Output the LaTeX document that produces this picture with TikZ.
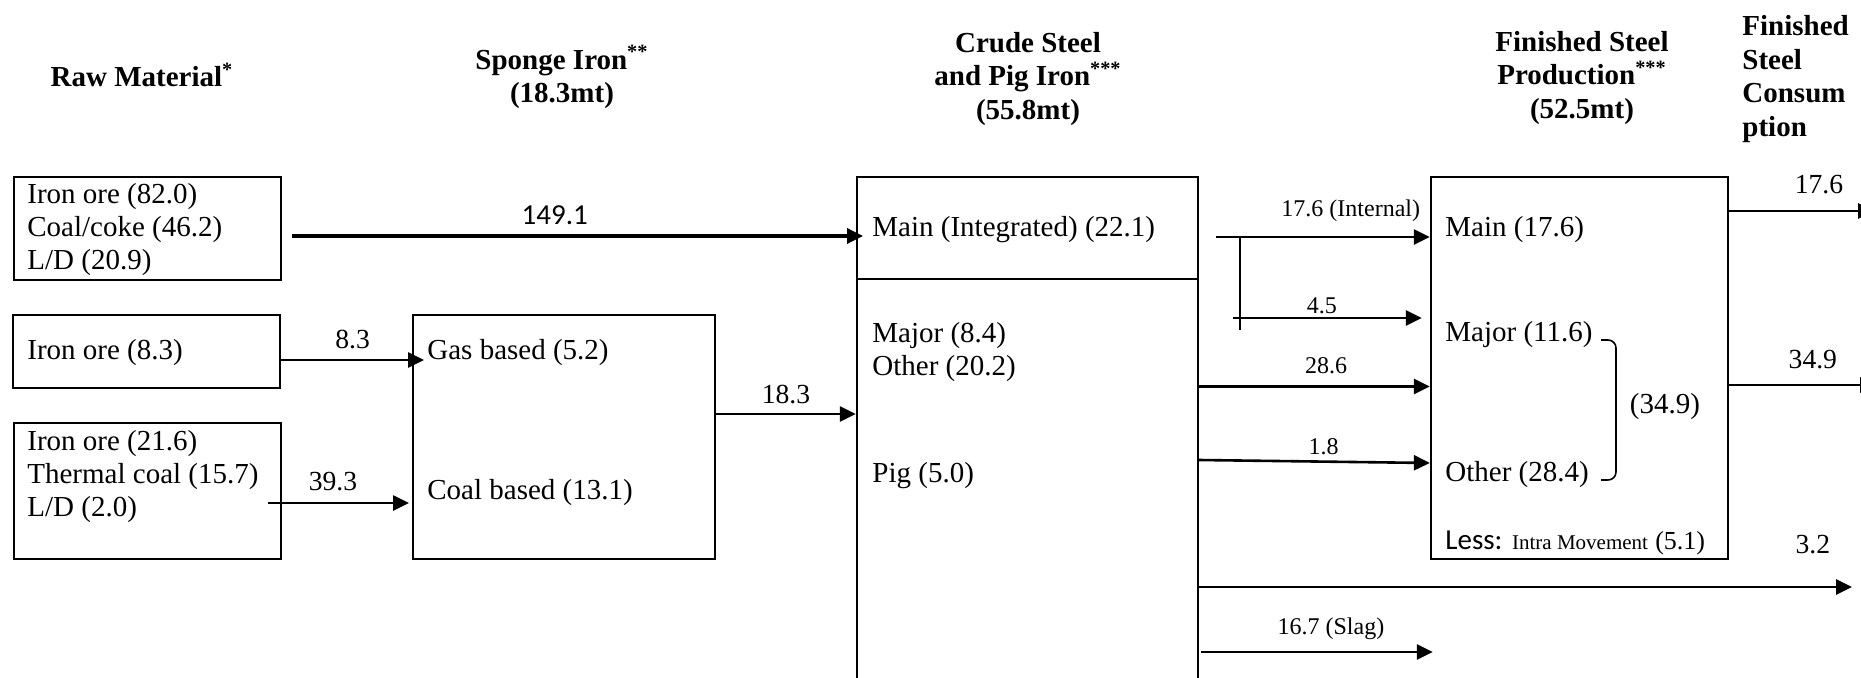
\documentclass[tikz,border=0pt]{standalone}
\usepackage{fontspec}
\setmainfont{Liberation Serif}
\newfontfamily\calibri{Carlito}
\usetikzlibrary{arrows.meta}

\begin{document}
\begin{tikzpicture}[
        x=0.5pt, y=-0.5pt,
        box/.style={rectangle, draw, line width=1.15pt, inner sep=0pt},
        txt/.style={anchor=west, align=left, inner sep=0pt, font=\fontsize{14.5}{16.5}\selectfont},
        head/.style={align=center, inner sep=0pt, font=\bfseries\fontsize{14.5}{16.7}\selectfont},
        lbl/.style={inner sep=0pt, font=\fontsize{13.8}{15}\selectfont},
        small/.style={inner sep=0pt, font=\fontsize{12}{14}\selectfont},
        arrow/.style={-{Triangle[length=8pt,width=7.5pt]}, line width=1.3pt}
    ]
        \useasboundingbox (0,0) rectangle (1861,678);

        \node[head] (rawhd) at (142,75) {Raw Material\textsuperscript{*}};
        \node[head] (sponghd) at (562,77) {Sponge Iron\textsuperscript{**}\\(18.3mt)};
        \node[head] (crudehd) at (1028,79) {Crude Steel\\and Pig Iron\textsuperscript{***}\\(55.8mt)};
        \node[head] (finhd) at (1582,78) {Finished Steel\\Production\textsuperscript{***}\\(52.5mt)};
        \node[head, anchor=west, align=left] (conshd) at (1742,79) {Finished\\Steel\\Consum\\ption};

        \node[box, minimum width=133.5pt, minimum height=51.5pt] (raw1) at (147.5,228.5) {};
        \node[box, minimum width=133.5pt, minimum height=36.5pt] (raw2) at (146.5,351.5) {};
        \node[box, minimum width=133.5pt, minimum height=68pt] (raw3) at (147.5,491) {};
        \node[box, minimum width=151pt, minimum height=122pt] (sponge) at (564,437) {};
        \node[box, minimum width=170.5pt, minimum height=256.5pt] (crude) at (1027.5,433.5) {};
        \node[box, minimum width=148.5pt, minimum height=191pt] (fin) at (1579.5,368) {};
        \draw[line width=1.15pt] ([yshift=-51.5pt]crude.north west) -- ([yshift=-51.5pt]crude.north east);

        \node[txt] (r1txt) at (27,230) {Iron ore (82.0)\\Coal/coke (46.2)\\L/D (20.9)};
        \node[txt] (r2txt) at (27,353) {Iron ore (8.3)};
        \node[txt] (r3txt) at (27,477) {Iron ore (21.6)\\Thermal coal (15.7)\\L/D (2.0)};
        \node[txt] (gas) at (427,353) {Gas based (5.2)};
        \node[txt] (coal) at (427,493) {Coal based (13.1)};
        \node[txt] (main) at (872,230) {Main (Integrated) (22.1)};
        \node[txt] (crmajor) at (872,352) {Major (8.4)\\Other (20.2)};
        \node[txt] (pig) at (872,476) {Pig (5.0)};
        \node[txt] (fmain) at (1445,230) {Main (17.6)};
        \node[txt] (fmajor) at (1445,335) {Major (11.6)};
        \node[txt] (fother) at (1445,475) {Other (28.4)};
        \node[txt] (less) at (1445,543) {{\calibri Less:} {\fontsize{10.5}{12}\selectfont Intra Movement} {\fontsize{13}{14}\selectfont(5.1)}};
        \node[txt, anchor=center] (fsum) at (1665,407) {(34.9)};
        \draw[line width=0.8pt, rounded corners=4pt] (1601,340) -- (1616,340) -- (1616,480) -- (1601,480);

        \coordinate (branch) at ([xshift=20.5pt,yshift=98.25pt]crude.east);
        \coordinate (use176) at (1874,211);
        \coordinate (use349) at (1876,385);
        \coordinate (use32) at (1852,587);

        \draw[arrow, line width=1.7pt] ([xshift=5pt,yshift=-3.75pt]raw1.east) -- node[lbl, font=\calibri\fontsize{14.5}{16}\selectfont, above=5pt, pos=0.46] {149.1} ([xshift=-4.5pt,yshift=-3pt]main.west);
        \draw[arrow] ([yshift=-4.25pt]raw2.east) -- node[lbl, above=5pt] {8.3} ([xshift=-1.5pt,yshift=-3.5pt]gas.west);
        \draw[arrow] ([xshift=-7pt,yshift=-6pt]raw3.east) -- node[lbl, above=5.5pt, pos=0.46] {39.3} ([xshift=-9pt,yshift=-5pt]coal.west);
        \draw[arrow] ([yshift=11.5pt]sponge.east) -- node[lbl, above=4.5pt] {18.3} ([yshift=9.75pt]crude.west);

        \draw[arrow] ([xshift=8.5pt,yshift=98.25pt]crude.east) -- node[small, above=7pt, pos=0.63] {17.6 (Internal)} ([yshift=65.5pt]fin.west);
        \draw[line width=0.85pt] (branch) -- ([xshift=20.5pt,yshift=51.75pt]crude.east);
        \draw[arrow] ([xshift=17pt,yshift=57.75pt]crude.east) -- node[small, above=1.5pt, pos=0.47] {4.5} ([xshift=-4pt,yshift=25pt]fin.west);
        \draw[arrow] ([yshift=23.5pt]crude.east) -- node[small, above=5.5pt, pos=0.55] {28.6} ([yshift=-9.25pt]fin.west);
        \draw[arrow] ([yshift=-13.25pt]crude.east) -- node[small, above=2.75pt, pos=0.54] {1.8} ([yshift=-47.5pt]fin.west);
        \draw[arrow] ([yshift=-76.75pt]crude.east) -- node[lbl, above=16pt, pos=0.94] {3.2} (use32);
        \draw[arrow] ([xshift=1pt,yshift=-109.25pt]crude.east) -- node[small, above=5.5pt, pos=0.56] {16.7 (Slag)} ([xshift=1.5pt,yshift=-142pt]fin.west);

        \draw[arrow] ([yshift=78.5pt]fin.east) -- node[lbl, above=8pt, pos=0.62] {17.6} (use176);
        \draw[arrow] ([yshift=-8.5pt]fin.east) -- node[lbl, above=7.5pt, pos=0.57] {34.9} (use349);
    \end{tikzpicture}
\end{document}
